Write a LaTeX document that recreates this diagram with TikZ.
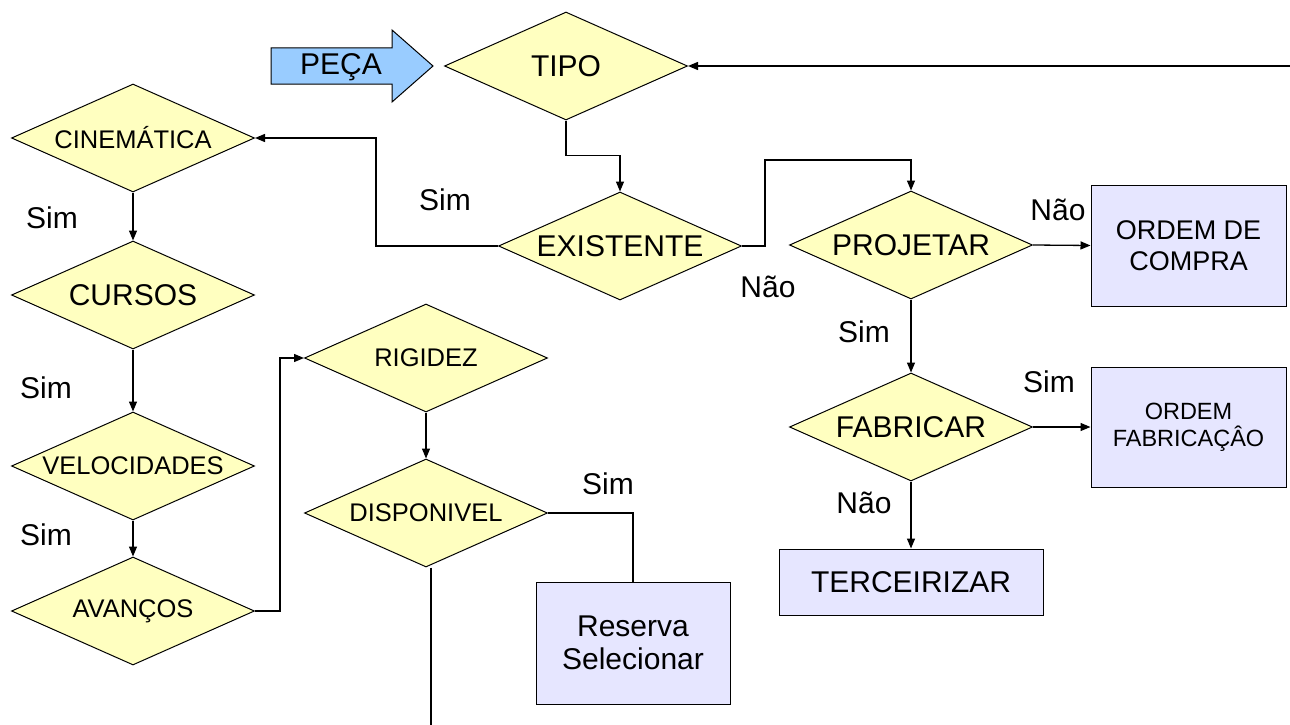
\documentclass[tikz,border=0pt]{standalone}
\usepackage{fontspec}
\setmainfont{Liberation Sans}
\usetikzlibrary{shapes.geometric,arrows.meta}

\definecolor{amarelo}{RGB}{255,255,192}
\definecolor{lilas}{RGB}{230,230,255}
\definecolor{azul}{RGB}{153,204,255}

\newcommand{\tam}[2]{\fontsize{#1}{#2}\selectfont}

\tikzset{
 decisao/.style={diamond,draw,fill=amarelo,line width=1pt,aspect=2.26,inner sep=0pt,
   minimum width=243pt,minimum height=108pt,font=\tam{30}{34}},
 menor/.style={font=\tam{25.5}{30}},
 caixa/.style={rectangle,draw,fill=lilas,line width=1pt,inner sep=0pt,align=center,font=\tam{30}{33}},
 rotulo/.style={font=\tam{30}{34}},
 seta/.style={-{Triangle[length=10pt,width=8pt]}}
}

\begin{document}
\begin{tikzpicture}[x=1pt,y=-1pt,line width=1.3pt]
 \useasboundingbox (0,0) rectangle (1290,725);
 % entrada da peca
 \draw[fill=azul,line width=1pt] (271,48)--(392,48)--(392,30)--(433,66)--(392,102)--(392,84)--(271,84)--cycle;
 \node[rotulo] (peca) at (341,67) {PEÇA};

 % decisoes
 \node[decisao] (tipo) at (566,66) {TIPO};
 \node[decisao] (exist) at (620,246) {EXISTENTE};
 \node[decisao] (proj) at (911,245) {PROJETAR};
 \node[decisao] (fab) at (911,427) {FABRICAR};
 \node[decisao,menor] (cine) at (133,138) {CINEMÁTICA};
 \node[decisao] (cursos) at (133,295) {CURSOS};
 \node[decisao,menor] (veloc) at (133,466) {VELOCIDADES};
 \node[decisao,menor] (avanc) at (133,611) {AVANÇOS};
 \node[decisao,menor] (rig) at (426,358) {RIGIDEZ};
 \node[decisao,menor] (disp) at (426,513) {DISPONIVEL};

 % acoes
 \node[caixa,minimum width=195pt,minimum height=121pt,font=\tam{27}{31}] (compra) at (1188.5,245.5) {ORDEM DE\\COMPRA};
 \node[caixa,minimum width=195pt,minimum height=120pt,font=\tam{23.5}{27}] (ordfab) at (1188.5,427) {ORDEM\\FABRICAÇÂO};
 \node[caixa,minimum width=264pt,minimum height=66pt] (terc) at (911,582) {TERCEIRIZAR};
 \node[caixa,minimum width=194pt,minimum height=122pt] (reserva) at (633,643) {Reserva\\Selecionar};

 % respostas
 \node[rotulo] (simexist) at (445,200) {Sim};
 \node[rotulo] (simcine) at (52,218) {Sim};
 \node[rotulo] (simcursos) at (46,388) {Sim};
 \node[rotulo] (simveloc) at (46,535) {Sim};
 \node[rotulo] (simdisp) at (608,484) {Sim};
 \node[rotulo] (naoexist) at (768,287) {Não};
 \node[rotulo] (naoproj) at (1058,210) {Não};
 \node[rotulo] (simproj) at (864,332) {Sim};
 \node[rotulo] (simfab) at (1049,382) {Sim};
 \node[rotulo] (naofab) at (864,503) {Não};

 \coordinate (borda) at (1290,66);
 \coordinate (fim) at (431,725);

 % ligacoes
 \draw[seta] (borda) -- (tipo.east);
 \draw[seta] (tipo.south) -- ++(0,35) -| (exist.north);
 \draw[seta] (exist.west) -- ++(-122,0) |- (cine.east);
 \draw[seta] (exist.east) -- ++(23,0) -- ++(0,-86) -| (proj.north);
 \draw[seta] (proj.east) -- (compra.west);
 \draw[seta] (proj.south) -- (fab.north);
 \draw[seta] (fab.east) -- (ordfab.west);
 \draw[seta] (fab.south) -- (terc.north);
 \draw[seta] (cine.south) -- (cursos.north);
 \draw[seta] (cursos.south) -- (veloc.north);
 \draw[seta] (veloc.south) -- (avanc.north);
 \draw[seta] (avanc.east) -- ++(25,0) |- (rig.west);
 \draw[seta] (rig.south) -- (disp.north);
 \draw (disp.east) -| (reserva.north);
 \draw (disp.south -| fim) -- (fim);
\end{tikzpicture}
\end{document}
